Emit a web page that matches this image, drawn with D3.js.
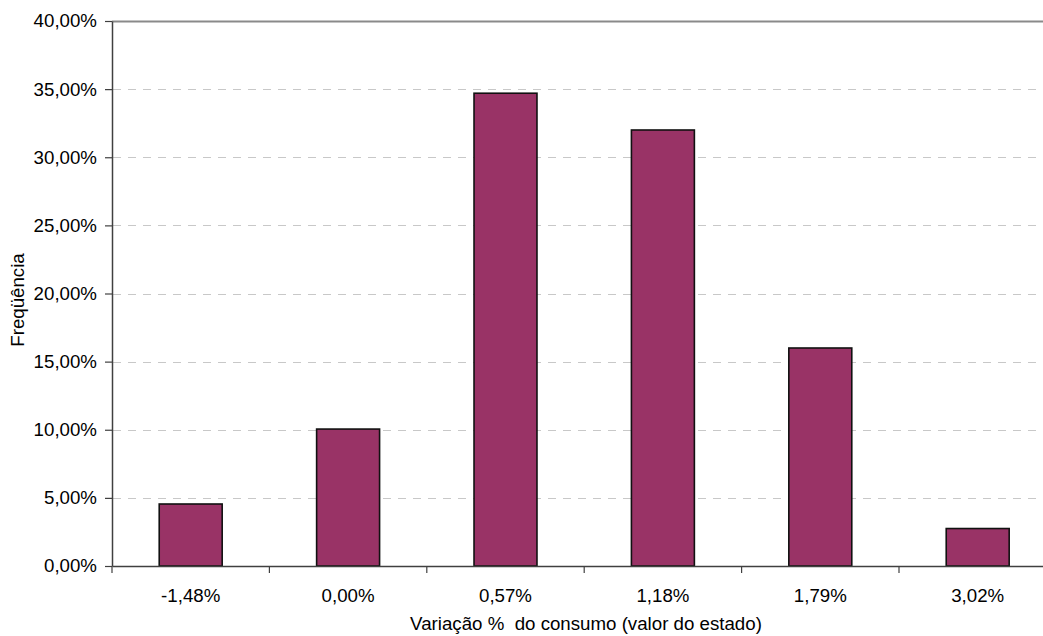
<!DOCTYPE html>
<html>
<head>
<meta charset="utf-8">
<script src="https://cdn.jsdelivr.net/npm/d3@7"></script>
<style>
  html, body { margin: 0; padding: 0; background: #fff; }
  svg { display: block; font-family: "Liberation Sans", Arial, sans-serif; }
  text { white-space: pre; }
</style>
</head>
<body>
<svg id="chart" width="1043" height="636"></svg>
<script>
// Distribution of consumption variation (state value)
const categories = ["-1,48%", "0,00%", "0,57%", "1,18%", "1,79%", "3,02%"];
const frequencies = [4.55, 10.05, 34.7, 32.0, 16.0, 2.75];
const yTicks = [0, 5, 10, 15, 20, 25, 30, 35, 40];
const xTitle = "Variação %  do consumo (valor do estado)";
const yTitle = "Freqüência";

(function () {
  const svg = d3.select("#chart");
  const plotLeft = 112, plotTop = 21, plotBottom = 566;
  const bandStep = 157.4;
  const plotRight = plotLeft + bandStep * categories.length;
  const fontSize = 18.7;

  const x = d3.scaleBand().domain(categories).range([plotLeft, plotRight]).paddingInner(0).paddingOuter(0);
  const y = d3.scaleLinear().domain([0, 40]).range([plotBottom, plotTop]);
  const fmt = v => v.toFixed(2).replace(".", ",") + "%";

  // dashed gridlines
  svg.append("g")
    .selectAll("line")
    .data(yTicks.filter(t => t > 0 && t < 40))
    .join("line")
    .attr("x1", plotLeft + 1).attr("x2", plotRight)
    .attr("y1", d => Math.round(y(d)) + 0.5).attr("y2", d => Math.round(y(d)) + 0.5)
    .attr("stroke", "#c8c8c8").attr("stroke-width", 1.2)
    .attr("stroke-dasharray", "8,7");

  // top border of plot area
  svg.append("line")
    .attr("x1", plotLeft).attr("x2", plotRight)
    .attr("y1", plotTop + 0.5).attr("y2", plotTop + 0.5)
    .attr("stroke", "#8a8a8a").attr("stroke-width", 2);

  // bars
  const barW = x.bandwidth() * 0.4;
  svg.append("g")
    .selectAll("rect")
    .data(frequencies)
    .join("rect")
    .attr("x", (d, i) => x(categories[i]) + (x.bandwidth() - barW) / 2)
    .attr("y", d => y(d))
    .attr("width", barW)
    .attr("height", d => plotBottom - y(d))
    .attr("fill", "#993366")
    .attr("stroke", "#111")
    .attr("stroke-width", 1.6);

  // y axis
  const yAxis = d3.axisLeft(y).tickValues(yTicks).tickFormat(fmt).tickSizeInner(7).tickSizeOuter(0).tickPadding(8);
  const gy = svg.append("g").attr("transform", `translate(${plotLeft},0)`).call(yAxis);
  gy.select(".domain").attr("stroke", "#404040").attr("stroke-width", 1.5);
  gy.selectAll(".tick line").attr("stroke", "#404040").attr("stroke-width", 1.2);
  gy.selectAll(".tick text").attr("font-size", fontSize).attr("fill", "#000")
    .attr("font-family", "'Liberation Sans', Arial, sans-serif");

  // x axis
  const xAxis = d3.axisBottom(x).tickSize(0).tickPadding(23);
  const gx = svg.append("g").attr("transform", `translate(0,${plotBottom})`).call(xAxis);
  gx.select(".domain").attr("stroke", "#404040").attr("stroke-width", 1.5);
  gx.selectAll(".tick text").attr("font-size", fontSize).attr("fill", "#000")
    .attr("font-family", "'Liberation Sans', Arial, sans-serif");
  // category boundary ticks
  gx.append("g").selectAll("line")
    .data(d3.range(categories.length + 1))
    .join("line")
    .attr("x1", i => plotLeft + i * bandStep).attr("x2", i => plotLeft + i * bandStep)
    .attr("y1", 0).attr("y2", 7)
    .attr("stroke", "#404040").attr("stroke-width", 1.2);

  // axis titles
  svg.append("text")
    .attr("x", 586).attr("y", 630)
    .attr("text-anchor", "middle")
    .attr("font-size", fontSize).attr("fill", "#000")
    .text(xTitle);

  svg.append("text")
    .attr("transform", "translate(24,300) rotate(-90)")
    .attr("text-anchor", "middle")
    .attr("font-size", fontSize).attr("fill", "#000")
    .text(yTitle);
})();
</script>
</body>
</html>
